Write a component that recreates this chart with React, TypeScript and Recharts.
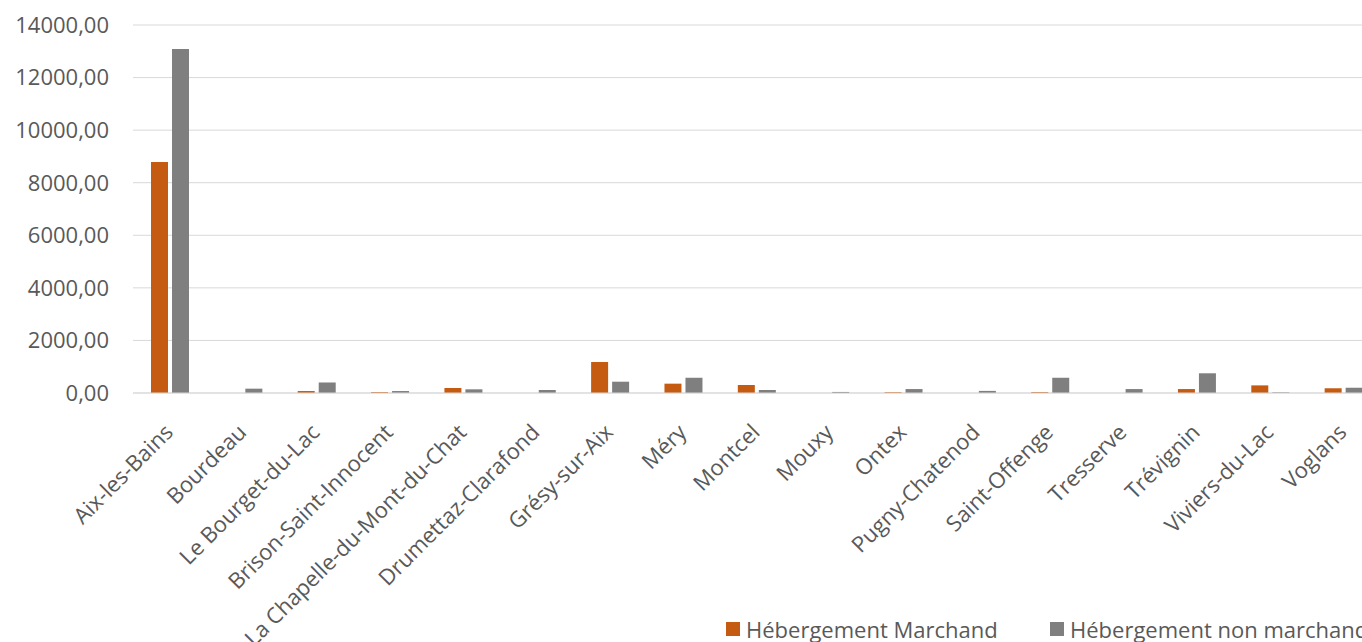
import { BarChart, Bar, XAxis, YAxis, CartesianGrid } from "recharts";

const communes = [
  "Aix-les-Bains", "Bourdeau", "Le Bourget-du-Lac", "Brison-Saint-Innocent",
  "La Chapelle-du-Mont-du-Chat", "Drumettaz-Clarafond", "Grésy-sur-Aix", "Méry",
  "Montcel", "Mouxy", "Ontex", "Pugny-Chatenod", "Saint-Offenge", "Tresserve",
  "Trévignin", "Viviers-du-Lac", "Voglans",
];
const marchand = [8790, 0, 75, 35, 190, 0, 1180, 355, 305, 0, 30, 0, 35, 0, 150, 290, 180];
const nonMarchand = [13085, 165, 400, 75, 140, 115, 430, 580, 115, 40, 150, 80, 580, 150, 750, 25, 200];
const yTicks = [0, 2000, 4000, 6000, 8000, 10000, 12000, 14000];

const data = communes.map((name, i) => ({
  name, marchand: marchand[i], nonMarchand: nonMarchand[i],
}));

const FONT = "'Open Sans', sans-serif";
const ORANGE = "#C55A11";
const GREY = "#7F7F7F";

const fmt = (v: number) => v.toFixed(2).replace(".", ",");

function AngledTick({ x, y, payload }: any) {
  return (
    <g transform={`translate(${x - 7},${y + 21}) rotate(-45)`}>
      <text x={0} y={0} dy="0.75em" textAnchor="end" fill="#595959"
        fontSize={22} fontFamily={FONT}>
        {payload.value}
      </text>
    </g>
  );
}

function LegendItem({ color, label, left }: { color: string; label: string; left: number }) {
  return (
    <div style={{ position: "absolute", left, top: 614, display: "flex", alignItems: "center" }}>
      <span style={{ width: 14, height: 14, background: color, display: "inline-block", marginRight: 6 }} />
      <span style={{ fontSize: 22, color: "#595959", fontFamily: FONT, whiteSpace: "nowrap" }}>{label}</span>
    </div>
  );
}

export default function App() {
  return (
    <div style={{
      position: "fixed", top: 0, left: 0, width: 1362, height: 642,
      overflow: "hidden", background: "#fff",
    }}>
      <BarChart width={1380} height={642} data={data} barSize={17} barGap={4}
        margin={{ top: 25, right: 0, left: 0, bottom: 0 }}>
        <CartesianGrid stroke="#D9D9D9" vertical={false} />
        <XAxis dataKey="name" interval={0} height={249} tickLine={false}
          axisLine={{ stroke: "#D9D9D9" }} tick={<AngledTick />} />
        <YAxis width={133} domain={[0, 14000]} ticks={yTicks} tickFormatter={fmt}
          axisLine={false} tickLine={false} tickMargin={18}
          tick={{ fill: "#595959", fontSize: 22, fontFamily: FONT }} />
        <Bar dataKey="marchand" fill={ORANGE} isAnimationActive={false} />
        <Bar dataKey="nonMarchand" fill={GREY} isAnimationActive={false} />
      </BarChart>
      <LegendItem color={ORANGE} label="Hébergement Marchand" left={726} />
      <LegendItem color={GREY} label="Hébergement non marchand" left={1050} />
    </div>
  );
}
